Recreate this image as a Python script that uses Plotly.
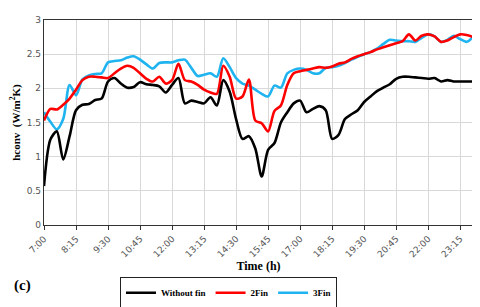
import plotly.graph_objects as go

times_min = [420 + 15 * i for i in range(68)]  # 7:00 .. 23:45

without_fin = [0.57, 1.25, 1.37, 0.96, 1.30, 1.68, 1.76, 1.77, 1.83, 1.85,
               2.10, 2.15, 2.07, 2.01, 2.02, 2.09, 2.06, 2.05, 2.03, 1.94,
               2.05, 2.15, 1.78, 1.82, 1.80, 1.78, 1.87, 1.75, 2.12, 1.95,
               1.55, 1.26, 1.30, 1.12, 0.71, 1.10, 1.20, 1.50, 1.65, 1.78,
               1.82, 1.65, 1.70, 1.74, 1.68, 1.26, 1.32, 1.55, 1.62, 1.68,
               1.80, 1.88, 1.96, 2.01, 2.06, 2.14, 2.17, 2.17, 2.16, 2.15,
               2.14, 2.15, 2.10, 2.12, 2.10, 2.10, 2.10, 2.10]

fin2 = [1.53, 1.70, 1.69, 1.76, 1.85, 1.98, 2.12, 2.17, 2.17, 2.16,
        2.15, 2.22, 2.29, 2.33, 2.30, 2.22, 2.14, 2.10, 2.17, 2.07,
        2.12, 2.36, 2.12, 2.10, 2.05, 1.98, 1.94, 1.92, 2.33, 2.17,
        1.85, 1.88, 2.13, 1.53, 1.49, 1.37, 1.67, 1.75, 2.05, 2.22,
        2.25, 2.27, 2.29, 2.31, 2.30, 2.32, 2.36, 2.38, 2.43, 2.47,
        2.50, 2.53, 2.57, 2.60, 2.63, 2.66, 2.69, 2.79, 2.70, 2.77,
        2.79, 2.76, 2.68, 2.70, 2.75, 2.79, 2.78, 2.75]

fin3 = [1.65, 1.51, 1.40, 1.55, 2.05, 1.90, 2.13, 2.19, 2.21, 2.22,
        2.38, 2.40, 2.41, 2.45, 2.47, 2.42, 2.35, 2.29, 2.37, 2.38,
        2.38, 2.41, 2.42, 2.30, 2.18, 2.20, 2.22, 2.17, 2.44, 2.31,
        2.15, 2.07, 2.04, 1.98, 1.92, 1.88, 2.04, 2.01, 2.22, 2.27,
        2.29, 2.27, 2.22, 2.22, 2.30, 2.31, 2.33, 2.37, 2.42, 2.46,
        2.50, 2.53, 2.58, 2.65, 2.71, 2.70, 2.69, 2.69, 2.68, 2.74,
        2.79, 2.76, 2.68, 2.71, 2.77, 2.72, 2.68, 2.75]

tick_labels = ["7:00", "8:15", "9:30", "10:45", "12:00", "13:15", "14:30",
               "15:45", "17:00", "18:15", "19:30", "20:45", "22:00", "23:15"]
tick_vals = [420 + 75 * i for i in range(len(tick_labels))]

series = [("3Fin", fin3, "#1fb4f0"),
          ("2Fin", fin2, "#ff0000"),
          ("Without fin", without_fin, "#000000")]
legend_rank = {"Without fin": 1, "2Fin": 2, "3Fin": 3}

fig = go.Figure()
for name, vals, col in series:
    fig.add_trace(go.Scatter(x=times_min, y=vals, name=name, mode="lines",
                             legendrank=legend_rank[name],
                             line=dict(color=col, width=2.6, shape="spline", smoothing=0.8)))

serif = "Liberation Serif"
fig.update_layout(
    width=480, height=307,
    margin=dict(l=32, r=15, t=7, b=82),
    paper_bgcolor="white", plot_bgcolor="white",
    showlegend=True,
    legend=dict(orientation="h", x=0.43, y=-0.255, xanchor="center", yanchor="top",
                bordercolor="#222", borderwidth=1,
                font=dict(family=serif, size=9, color="#000", weight="bold"),
                itemwidth=30, tracegroupgap=0, traceorder="normal"),
    font=dict(family="DejaVu Sans", size=9, color="#555"),
)
fig.update_xaxes(range=[420, 1425], tickvals=tick_vals, ticktext=tick_labels,
                 tickangle=-45, showgrid=True, gridcolor="#d9d9d9", gridwidth=1,
                 showline=True, linecolor="#333", linewidth=1.2, mirror=True,
                 ticks="outside", ticklen=4, tickcolor="#333",
                 tickfont=dict(size=9, color="#555"),
                 title=dict(text="<b>Time (h)</b>", font=dict(family=serif, size=12, color="#000"),
                            standoff=0),
                 zeroline=False)
fig.update_yaxes(range=[0, 3], dtick=0.5, showgrid=True, gridcolor="#d9d9d9", gridwidth=1,
                 showline=True, linecolor="#333", linewidth=1.2, mirror=True,
                 tickformat="", tickfont=dict(size=9, color="#555"),
                 title=dict(text="<b>hconv  (W/m<sup>2</sup>K)</b>",
                            font=dict(family=serif, size=11, color="#000"), standoff=4),
                 zeroline=False)
fig.add_annotation(text="<b>(c)</b>", xref="paper", yref="paper", x=-0.074, y=-0.245,
                   xanchor="left", yanchor="top", showarrow=False,
                   font=dict(family=serif, size=15, color="#000"))
fig.write_html("out.html")
